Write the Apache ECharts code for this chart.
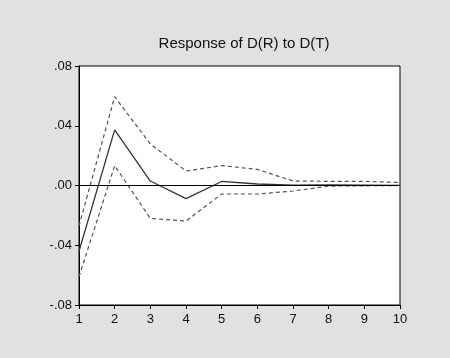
<!DOCTYPE html>
<html><head><meta charset="utf-8">
<script src="https://cdn.jsdelivr.net/npm/echarts@6/dist/echarts.min.js"></script>
<style>html,body{margin:0;padding:0;background:#e1e1e1;}#c{width:450px;height:358px;}</style>
</head><body><div id="c"></div>
<script>
var periods = [1,2,3,4,5,6,7,8,9,10];
var response = [-0.044, 0.0372, 0.003, -0.0088, 0.0027, 0.001, 0.0003, 0.0004, 0.0003, 0.0001];
var upperBand = [-0.027, 0.0594, 0.0278, 0.0097, 0.0133, 0.0108, 0.003, 0.0028, 0.0028, 0.002];
var lowerBand = [-0.061, 0.0133, -0.022, -0.0238, -0.0057, -0.0057, -0.0037, -0.0004, -0.0002, 0.0];
var yTicks = ['.08','.04','.00','-.04','-.08'];

function pairs(arr){ return periods.map(function(p,i){ return [p, arr[i]]; }); }
function fmt(v){
  var s = Math.abs(v) < 1e-9 ? '.00' : v.toFixed(2).replace('0.', '.');
  return s;
}
var chart = echarts.init(document.getElementById('c'));
chart.setOption({
  backgroundColor: '#e1e1e1',
  animation: false,
  title: {
    text: 'Response of D(R) to D(T)',
    left: 239, top: 31, textAlign: 'center',
    textStyle: {fontFamily: 'Liberation Sans, Arial', fontSize: 15, fontWeight: 'normal', color: '#111'}
  },
  grid: {left: 79, right: 50, top: 66, bottom: 53, show: true, backgroundColor: '#fff', borderColor: '#000', borderWidth: 1},
  xAxis: {
    type: 'value', min: 1, max: 10, interval: 1,
    axisLine: {show: true, onZero: false, lineStyle: {color: '#000', width: 1}},
    axisTick: {show: true, length: 4, lineStyle: {color: '#000'}},
    splitLine: {show: false},
    axisLabel: {color: '#111', fontSize: 13, fontFamily: 'Liberation Sans, Arial', margin: 8}
  },
  yAxis: {
    type: 'value', min: -0.08, max: 0.08, interval: 0.04,
    axisLine: {show: true, onZero: false, lineStyle: {color: '#000', width: 1}},
    axisTick: {show: true, length: 4, lineStyle: {color: '#000'}},
    splitLine: {show: false},
    axisLabel: {color: '#111', fontSize: 13, fontFamily: 'Liberation Sans, Arial', margin: 7, formatter: fmt}
  },
  series: [
    {type: 'line', data: pairs(upperBand), symbol: 'none', lineStyle: {color: '#555', width: 1.2, type: [4, 3]}},
    {type: 'line', data: pairs(lowerBand), symbol: 'none', lineStyle: {color: '#555', width: 1.2, type: [4, 3]}},
    {type: 'line', data: pairs(response), symbol: 'none', lineStyle: {color: '#333', width: 1.3},
     markLine: {silent: true, symbol: ['none','none'], label: {show: false}, lineStyle: {color: '#000', width: 1, type: 'solid'}, data: [{yAxis: 0}]}}
  ]
});
</script></body></html>
